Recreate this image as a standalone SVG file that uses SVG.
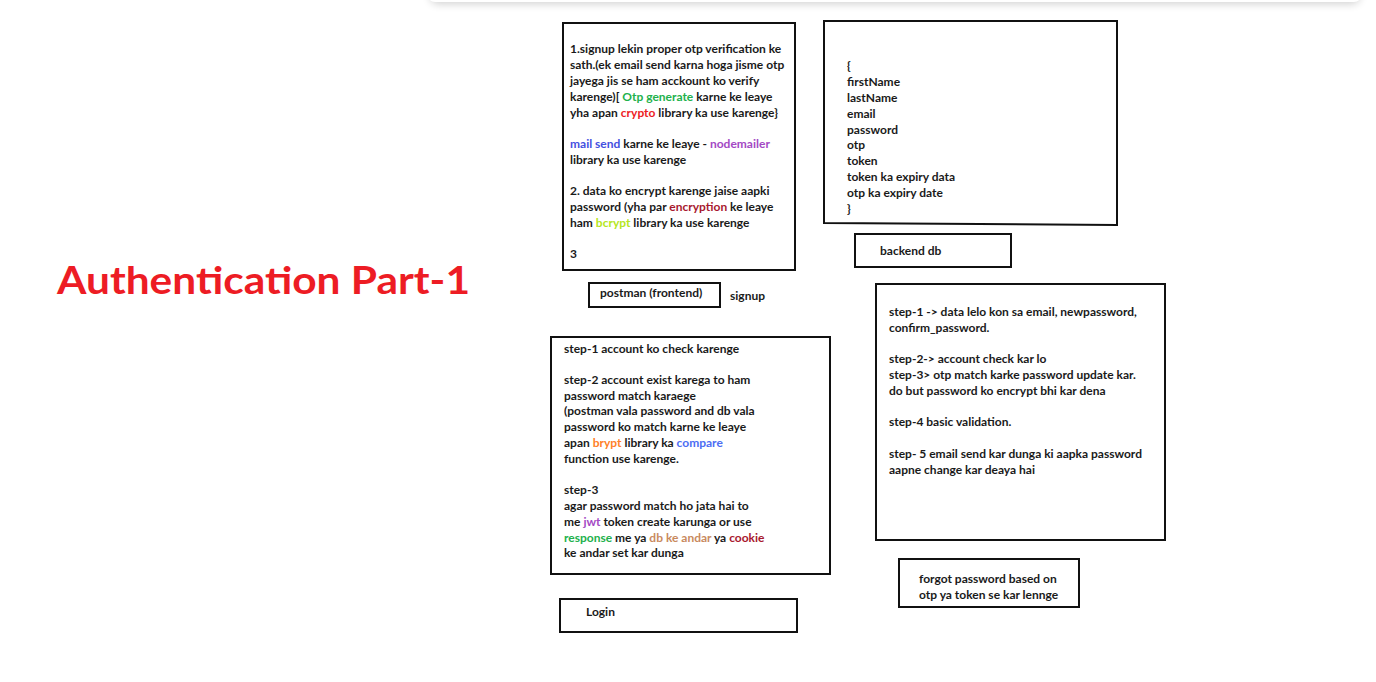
<svg xmlns="http://www.w3.org/2000/svg" width="1376" height="682" viewBox="0 0 1376 682">
<defs>
<filter id="sh" x="-5%" y="-100%" width="110%" height="400%"><feGaussianBlur stdDeviation="4"/></filter>
</defs>
<style>
.b{fill:#fff;stroke:#111;stroke-width:2}
.t{font-family:Lato,"Noto Sans",sans-serif;font-weight:bold;font-size:12px;fill:#1a1a1a}
.ttl{font-family:Lato,"Open Sans",sans-serif;font-weight:bold;font-size:38px;fill:#ed1c24}
.g{fill:#22b14c}.r{fill:#ed1c24}.bl{fill:#4450e0}.p{fill:#a349c4}.dr{fill:#a8182e}.y{fill:#b5e61d}.o{fill:#ff7f27}.cb{fill:#4d6df3}.tan{fill:#c98a5e}
</style>
<rect width="1376" height="682" fill="#fff"/>
<g id="topbar">
<rect x="430" y="-20" width="930" height="24" rx="8" fill="#000" opacity="0.18" filter="url(#sh)"/>
<rect x="427" y="-20" width="935" height="22" rx="8" fill="#fff"/>
</g>
<g id="title"><text class="ttl" x="57" y="294" textLength="413" lengthAdjust="spacingAndGlyphs">Authentication Part-1</text></g>
<g id="signup-notes">
<rect class="b" x="563" y="23" width="232" height="247"/>
<text class="t" x="570" y="53">1.signup lekin proper otp verification ke</text>
<text class="t" x="570" y="69">sath.(ek email send karna hoga jisme otp</text>
<text class="t" x="570" y="85">jayega jis se ham acckount ko verify</text>
<text class="t" x="570" y="101">karenge)[ <tspan class="g">Otp generate</tspan> karne ke leaye</text>
<text class="t" x="570" y="117">yha apan <tspan class="r">crypto</tspan> library ka use karenge}</text>
<text class="t" x="570" y="148"><tspan class="bl">mail send</tspan> karne ke leaye - <tspan class="p">nodemailer</tspan></text>
<text class="t" x="570" y="164">library ka use karenge</text>
<text class="t" x="570" y="195">2. data ko encrypt karenge jaise aapki</text>
<text class="t" x="570" y="211">password (yha par <tspan class="dr">encryption</tspan> ke leaye</text>
<text class="t" x="570" y="227">ham <tspan class="y">bcrypt</tspan> library ka use karenge</text>
<text class="t" x="570" y="258">3</text>
</g>
<g id="schema">
<path class="b" d="M824 21 L1117 21 L1117 225 L824 223 Z"/>
<text class="t" x="847" y="70">{</text>
<text class="t" x="847" y="86">firstName</text>
<text class="t" x="847" y="102">lastName</text>
<text class="t" x="847" y="118">email</text>
<text class="t" x="847" y="134">password</text>
<text class="t" x="847" y="149">otp</text>
<text class="t" x="847" y="165">token</text>
<text class="t" x="847" y="181">token ka expiry data</text>
<text class="t" x="847" y="197">otp ka expiry date</text>
<text class="t" x="847" y="213">}</text>
</g>
<g id="backend-db">
<rect class="b" x="855" y="234" width="156" height="33"/>
<text class="t" x="880" y="255">backend db</text>
</g>
<g id="postman">
<rect class="b" x="589" y="283" width="131" height="24"/>
<text class="t" x="600" y="297">postman (frontend)</text>
</g>
<g id="signup-label"><text class="t" x="730" y="300">signup</text></g>
<g id="login-steps">
<rect class="b" x="551" y="337" width="279" height="237"/>
<text class="t" x="564" y="353">step-1 account ko check karenge</text>
<text class="t" x="564" y="384">step-2 account exist karega to ham</text>
<text class="t" x="564" y="400">password match karaege</text>
<text class="t" x="564" y="415">(postman vala password and db vala</text>
<text class="t" x="564" y="431">password ko match karne ke leaye</text>
<text class="t" x="564" y="447">apan <tspan class="o">brypt</tspan> library ka <tspan class="cb">compare</tspan></text>
<text class="t" x="564" y="463">function use karenge.</text>
<text class="t" x="564" y="494">step-3</text>
<text class="t" x="564" y="510">agar password match ho jata hai to</text>
<text class="t" x="564" y="526">me <tspan class="p">jwt</tspan> token create karunga or use</text>
<text class="t" x="564" y="542"><tspan class="g">response</tspan> me ya <tspan class="tan">db ke andar</tspan> ya <tspan class="dr">cookie</tspan></text>
<text class="t" x="564" y="557">ke andar set kar dunga</text>
</g>
<g id="login">
<rect class="b" x="560" y="599" width="237" height="33"/>
<text class="t" x="586" y="616">Login</text>
</g>
<g id="forgot-steps">
<rect class="b" x="876" y="284" width="289" height="256"/>
<text class="t" x="889" y="316">step-1 -&gt; data lelo kon sa email, newpassword,</text>
<text class="t" x="889" y="332">confirm_password.</text>
<text class="t" x="889" y="363">step-2-&gt; account check kar lo</text>
<text class="t" x="889" y="379">step-3&gt; otp match karke password update kar.</text>
<text class="t" x="889" y="395"> do but password ko encrypt bhi kar dena</text>
<text class="t" x="889" y="426">step-4 basic validation.</text>
<text class="t" x="889" y="458">step- 5 email send kar dunga ki aapka password</text>
<text class="t" x="889" y="474">aapne change kar deaya hai</text>
</g>
<g id="forgot">
<rect class="b" x="899" y="559" width="180" height="48"/>
<text class="t" x="919" y="583">forgot password based on</text>
<text class="t" x="919" y="599">otp ya token se kar lennge</text>
</g>
<g id="connectors"/>
</svg>
